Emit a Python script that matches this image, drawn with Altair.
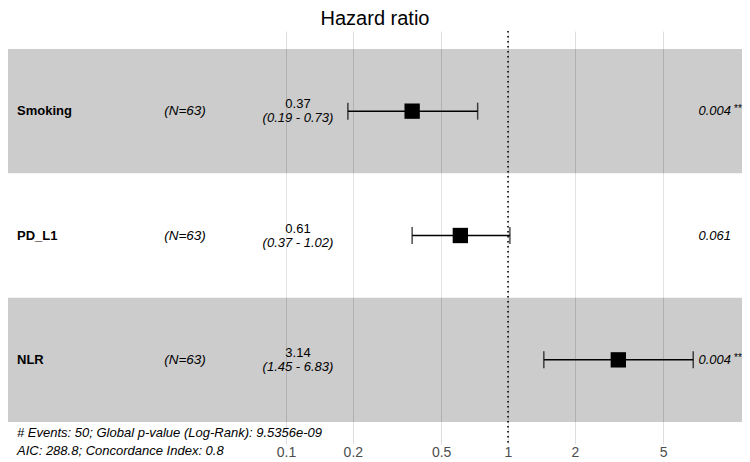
import altair as alt
import pandas as pd

# ---- data ----
variables = ["Smoking", "PD_L1", "NLR"]
n_obs = [63, 63, 63]
hr = [0.37, 0.61, 3.14]
ci_low = [0.19, 0.37, 1.45]
ci_high = [0.73, 1.02, 6.83]
p_values = ["0.004", "0.061", "0.004"]
stars = ["**", "", "**"]
tick_values = [0.1, 0.2, 0.5, 1, 2, 5]
title_text = "Hazard ratio"
note_1 = "# Events: 50; Global p-value (Log-Rank): 9.5356e-09"
note_2 = "AIC: 288.8; Concordance Index: 0.8"

rows = list(range(len(variables), 0, -1))  # top row highest
df = pd.DataFrame({
    "var": variables,
    "N": [f"(N={v})" for v in n_obs],
    "hr": hr,
    "lo": ci_low,
    "hi": ci_high,
    "hr_lab": [f"{v:.2f}" for v in hr],
    "ci_lab": [f"({a:.2f} - {b:.2f})" for a, b in zip(ci_low, ci_high)],
    "p": p_values,
    "stars": stars,
    "row": rows,
})
df["y0"] = df["row"] - 0.5
df["y1"] = df["row"] + 0.5
df["shade"] = ["dark" if i % 2 == 0 else "light" for i in range(len(df))]

# ---- layout ----
W, H = 734, 413
PX_PER_DEC = 222
L_MIN = -500 / PX_PER_DEC
L_MAX = (W - 500) / PX_PER_DEC
x_dom = [10 ** L_MIN, 10 ** L_MAX]
y_dom = [0.3233, 3.6446]
FONT = "Liberation Sans"

xs = alt.Scale(type="log", domain=x_dom, nice=False, zero=False)
ys = alt.Scale(domain=y_dom, nice=False, zero=False)
Y = lambda f: alt.Y(f, scale=ys, axis=None)

base = alt.Chart(df)

x_axis = alt.Axis(values=tick_values, labelExpr="format(datum.value, '~g')",
                  domain=False, ticks=False, grid=True, gridColor="#dedede",
                  gridWidth=1, labelColor="#4d4d4d", labelFontSize=14,
                  labelFont=FONT, labelPadding=1, title=None)

carrier = base.mark_point(opacity=0, size=1).encode(
    x=alt.X("hr:Q", scale=xs, axis=x_axis), y=Y("row:Q"))

rects = base.mark_rect().encode(
    x=alt.value(0), x2=alt.value(W),
    y=Y("y0:Q"), y2="y1:Q",
    color=alt.Color("shade:N", scale=alt.Scale(domain=["dark", "light"], range=["#000000", "#ffffff"]), legend=None),
    opacity=alt.value(0.2),
)

ref_line = alt.Chart(pd.DataFrame({"v": [1]})).mark_rule(
    color="black", strokeDash=[1.5, 3.5], strokeWidth=1.6
).encode(x=alt.X("v:Q", scale=xs, axis=x_axis))

err = base.mark_rule(color="black", strokeWidth=1.5).encode(
    x=alt.X("lo:Q", scale=xs, axis=x_axis), x2="hi:Q", y=Y("row:Q"))
cap_lo = base.mark_tick(orient="vertical", color="black", thickness=1.5, size=17).encode(
    x=alt.X("lo:Q", scale=xs, axis=x_axis), y=Y("row:Q"))
cap_hi = base.mark_tick(orient="vertical", color="black", thickness=1.5, size=17).encode(
    x=alt.X("hi:Q", scale=xs, axis=x_axis), y=Y("row:Q"))
pts = base.mark_square(color="black", filled=True, size=235, opacity=1).encode(
    x=alt.X("hr:Q", scale=xs, axis=x_axis), y=Y("row:Q"))

t_var = base.mark_text(align="left", baseline="middle", fontWeight="bold", fontSize=13, font=FONT, color="black").encode(
    x=alt.value(9), y=Y("row:Q"), text="var:N")
t_n = base.mark_text(align="center", baseline="middle", fontStyle="italic", fontSize=13.5, font=FONT, color="black").encode(
    x=alt.value(177), y=Y("row:Q"), text="N:N")
t_hr = base.mark_text(align="center", baseline="middle", fontSize=13, font=FONT, color="black", dy=-7).encode(
    x=alt.value(290), y=Y("row:Q"), text="hr_lab:N")
t_ci = base.mark_text(align="center", baseline="middle", fontStyle="italic", fontSize=13, font=FONT, color="black", dy=7).encode(
    x=alt.value(290), y=Y("row:Q"), text="ci_lab:N")
t_p = base.mark_text(align="right", baseline="middle", fontStyle="italic", fontSize=13, font=FONT, color="black").encode(
    x=alt.value(723), y=Y("row:Q"), text="p:N")
t_s = base.mark_text(align="left", baseline="middle", fontSize=10, font=FONT, color="black", dy=-2).encode(
    x=alt.value(726), y=Y("row:Q"), text="stars:N")

notes_df = pd.DataFrame({"t": [note_1, note_2], "py": [402, 420]})
notes = alt.Chart(notes_df).mark_text(
    align="left", baseline="middle", fontStyle="italic", fontSize=13, font=FONT, color="black"
).encode(x=alt.value(9), y=alt.Y("py:Q", scale=alt.Scale(domain=[0, H], range=[0, H]), axis=None), text="t:N")

title = alt.Chart(pd.DataFrame({"t": [title_text]})).mark_text(
    align="center", baseline="top", fontSize=20, font=FONT, color="black"
).encode(x=alt.value(367), y=alt.value(-22), text="t:N")

main = alt.layer(carrier, rects, ref_line, err, cap_lo, cap_hi, pts,
                 t_var, t_n, t_hr, t_ci, t_p, t_s)

chart = alt.layer(main, notes, title).resolve_scale(y="independent").properties(
    width=W, height=H,
    padding={"left": 0, "top": 23, "right": 0, "bottom": 16},
    autosize=alt.AutoSizeParams(type="none"),
    background="white",
).configure_view(stroke=None)

chart.save("out.html", embed_options={"renderer": "svg", "actions": False})
